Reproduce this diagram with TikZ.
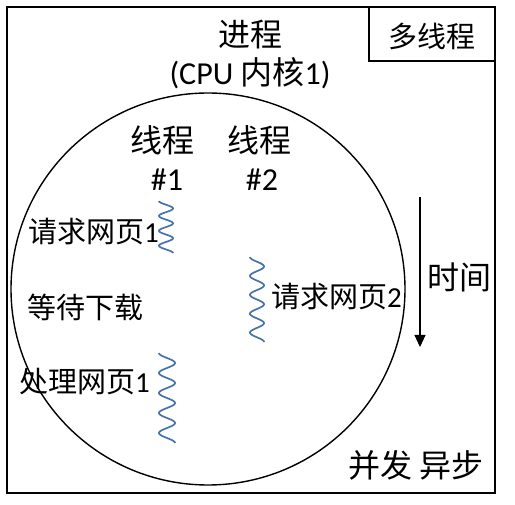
\documentclass[tikz,border=0pt]{standalone}
\usepackage{fontspec}
\setmainfont{Carlito}
\newfontfamily\cjk{Noto Sans CJK SC}
\usetikzlibrary{arrows.meta,shapes.geometric}
\begin{document}
\begin{tikzpicture}[x=1pt,y=-1pt,
  lbl/.style={inner sep=0pt, font=\fontsize{29}{32}\selectfont},
  big/.style={inner sep=0pt, font=\fontsize{32}{35}\selectfont},
  wave/.style={draw={rgb,255:red,70;green,115;blue,170}, line width=1.7pt},
  box/.style={draw, line width=1.6pt, inner sep=0pt},
]
\useasboundingbox (0,0) rectangle (515,505);
\node[box, minimum width=488pt, minimum height=486pt] (frame) at (251,250) {};
\node[box, minimum width=126pt, minimum height=54pt] (multi) at (432,34) {};
\node[lbl] (multit) at (432,36) {\cjk 多线程};
\node[draw, ellipse, line width=1.4pt, minimum width=394pt, minimum height=392pt, inner sep=0pt] (proc) at (208,289) {};
\node[big] (jc) at (250,35) {\cjk 进程};
\node[big] (cpu) at (250,73) {(CPU {\cjk 内核}1)};
\node[big] (t1) at (162,140) {\cjk 线程};
\node[big] (t1n) at (167,180) {\#1};
\node[big] (t2) at (259,140) {\cjk 线程};
\node[big] (t2n) at (262,180) {\#2};
\node[lbl, anchor=west] (q1) at (28,232) {{\cjk 请求网页}1};
\node[lbl, anchor=west] (dd) at (27,307) {\cjk 等待下载};
\node[lbl, anchor=west] (cl) at (19,382) {{\cjk 处理网页}1};
\node[lbl, anchor=west] (q2) at (271,297) {{\cjk 请求网页}2};
\node[big, anchor=west] (sj) at (427,277) {\cjk 时间};
\node[big, anchor=west] (bf) at (348,465) {{\cjk 并发} {\cjk 异步}};
\coordinate (a0) at (420,197);
\coordinate (a1) at (420,347);
\draw[line width=1.1pt, -{Triangle[width=11pt,length=12pt]}] (a0) -- (a1);
\draw[wave] plot[domain=0:3.5, samples=120, smooth] ({166-7*cos(\x*360)}, {201+\x*14.9});
\draw[wave] plot[domain=0:4.5, samples=150, smooth] ({167-8*cos(\x*360)}, {353+\x*20});
\draw[wave] plot[domain=0:4.5, samples=150, smooth] ({257-7*cos(\x*360)}, {257+\x*18.9});
\end{tikzpicture}
\end{document}
